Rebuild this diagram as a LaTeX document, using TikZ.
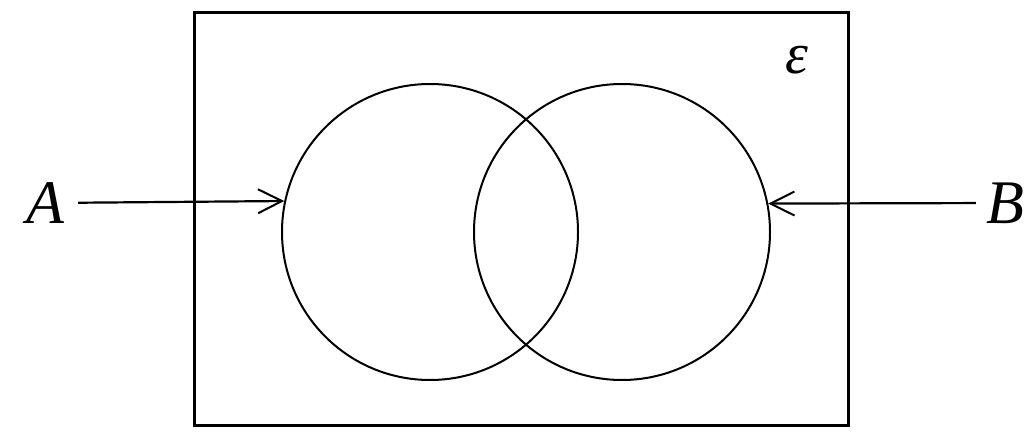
\documentclass[tikz,border=0pt]{standalone}
\usepackage{fontspec}
\setmainfont{Liberation Serif}
\usetikzlibrary{arrows.meta}
\begin{document}
\begin{tikzpicture}[x=1pt,y=-1pt,
  setcircle/.style={draw, circle, line width=2pt, minimum size=296pt, inner sep=0pt},
  label/.style={font=\fontsize{62}{62}\selectfont\itshape, inner sep=0pt},
  pointer/.style={line width=2.2pt, -{Straight Barb[length=24pt,width=24pt,line width=2pt]}}]
\useasboundingbox (0,0) rectangle (1028,438);
\node[draw, line width=3pt, minimum width=654pt, minimum height=412pt, inner sep=0pt] (U) at (521,219) {};
\node[setcircle] (L) at (430,232) {};
\node[setcircle] (R) at (622,232) {};
\node[label, inner xsep=14pt] (A) at (45,203) {A};
\node[label, inner xsep=10pt] (B) at (1005,203) {B};
\node[font=\fontsize{58}{58}\selectfont\itshape, inner sep=0pt] (E) at (797,60) {ε};
\draw[pointer] (A) -- (L.168.7);
\draw[pointer] (B) -- (R.11.3);
\end{tikzpicture}
\end{document}
